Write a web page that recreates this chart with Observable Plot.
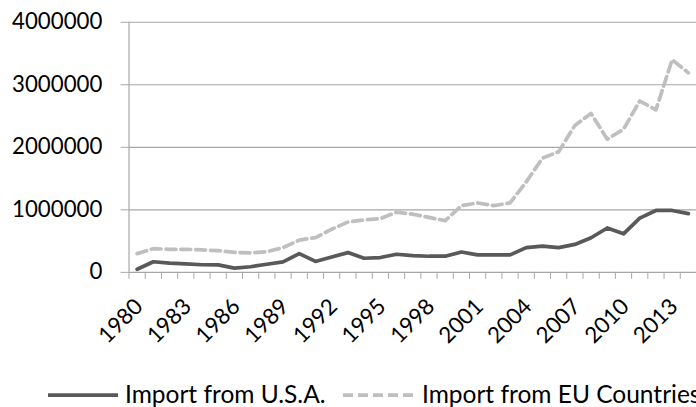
<!DOCTYPE html>
<html>
<head>
<meta charset="utf-8">
<script src="https://cdn.jsdelivr.net/npm/d3@7"></script>
<script src="https://cdn.jsdelivr.net/npm/@observablehq/plot@0.6"></script>
<style>
  html, body { margin: 0; padding: 0; background: #fff; overflow: hidden; }
  #wrap { position: relative; width: 696px; height: 407px; overflow: hidden; font-family: Lato, "Open Sans", sans-serif; }
  #chart { position: absolute; left: 0; top: 0; }
  #legend { position: absolute; left: 0; top: 0; width: 720px; height: 407px; }
</style>
</head>
<body>
<div id="wrap"><div id="chart"></div><svg id="legend"></svg></div>
<script>
const years = [1980,1981,1982,1983,1984,1985,1986,1987,1988,1989,1990,1991,1992,1993,1994,1995,1996,1997,1998,1999,2000,2001,2002,2003,2004,2005,2006,2007,2008,2009,2010,2011,2012,2013,2014];
const usaImports = [50000,170000,147000,137000,122000,120000,68000,90000,130000,168000,300000,175000,247000,316000,226000,237000,290000,268000,258000,258000,325000,279000,279000,279000,395000,420000,395000,447000,553000,710000,616000,868000,990000,990000,940000];
const euImports = [300000,379000,368000,368000,360000,347000,320000,310000,330000,395000,516000,555000,690000,805000,840000,858000,963000,930000,879000,826000,1068000,1110000,1068000,1110000,1447000,1826000,1930000,2350000,2540000,2130000,2290000,2740000,2600000,3400000,3190000];
const seriesNames = ["Import from U.S.A.", "Import from EU Countries"];
const yTicks = [0, 1000000, 2000000, 3000000, 4000000];
const xLabelYears = [1980,1983,1986,1989,1992,1995,1998,2001,2004,2007,2010,2013];

const usaColor = "#595959", euColor = "#bfbfbf", gridColor = "#a6a6a6";
const usaData = years.map((y, i) => ({year: y, value: usaImports[i]}));
const euData = years.map((y, i) => ({year: y, value: euImports[i]}));
const boundaries = years.map(y => y - 0.5).concat([years[years.length - 1] + 0.5]);

const chart = Plot.plot({
  width: 704,
  height: 362,
  marginLeft: 130,
  marginRight: 0,
  marginTop: 22,
  marginBottom: 87,
  style: {fontFamily: "Lato, 'Open Sans', sans-serif", fontSize: "22.5px", color: "#000", background: "#fff", overflow: "visible"},
  x: {domain: [years[0] - 0.5, years[years.length - 1] + 0.5], axis: null},
  y: {domain: [0, 4000000], axis: null},
  marks: [
    Plot.gridY(yTicks.filter(d => d > 0), {stroke: gridColor, strokeOpacity: 1, strokeWidth: 1.2, x1: years[0] - 0.5, x2: years[years.length - 1] + 0.5}),
    Plot.axisY({ticks: yTicks, tickSize: 8, tickPadding: 19, tickFormat: d => String(d), stroke: gridColor, strokeOpacity: 1, fontSize: 22.5, color: "#000", label: null}),
    Plot.axisX({ticks: boundaries, tickSize: 7, tickFormat: () => "", stroke: gridColor, strokeOpacity: 1, label: null}),
    Plot.ruleY([0], {stroke: gridColor, strokeWidth: 1.2}),
    Plot.ruleX([years[0] - 0.5], {stroke: gridColor, strokeWidth: 1.2, y1: 0, y2: 4000000}),
    Plot.line(euData, {x: "year", y: "value", stroke: euColor, strokeWidth: 3.75, strokeDasharray: "10,5"}),
    Plot.line(usaData, {x: "year", y: "value", stroke: usaColor, strokeWidth: 3.75}),
    Plot.text(xLabelYears, {x: d => d, y: 0, text: d => String(d), rotate: -45, textAnchor: "end", lineAnchor: "bottom", dx: 7, dy: 36, fontSize: 22.5, fill: "#000"})
  ]
});
document.getElementById("chart").appendChild(chart);

// Legend (below the plot area)
const leg = d3.select("#legend");
const legendItems = [
  {name: seriesNames[0], color: usaColor, dash: null, x1: 48, x2: 118, tx: 125},
  {name: seriesNames[1], color: euColor, dash: "10,5", x1: 343, x2: 414, tx: 422}
];
const ly = 395;
for (const it of legendItems) {
  leg.append("line").attr("x1", it.x1).attr("x2", it.x2).attr("y1", ly).attr("y2", ly)
    .attr("stroke", it.color).attr("stroke-width", 3.75).attr("stroke-dasharray", it.dash);
  leg.append("text").attr("x", it.tx).attr("y", ly + 8).attr("font-size", 24.5)
    .attr("font-family", "Lato, 'Open Sans', sans-serif").attr("fill", "#000").text(it.name);
}
</script>
</body>
</html>
